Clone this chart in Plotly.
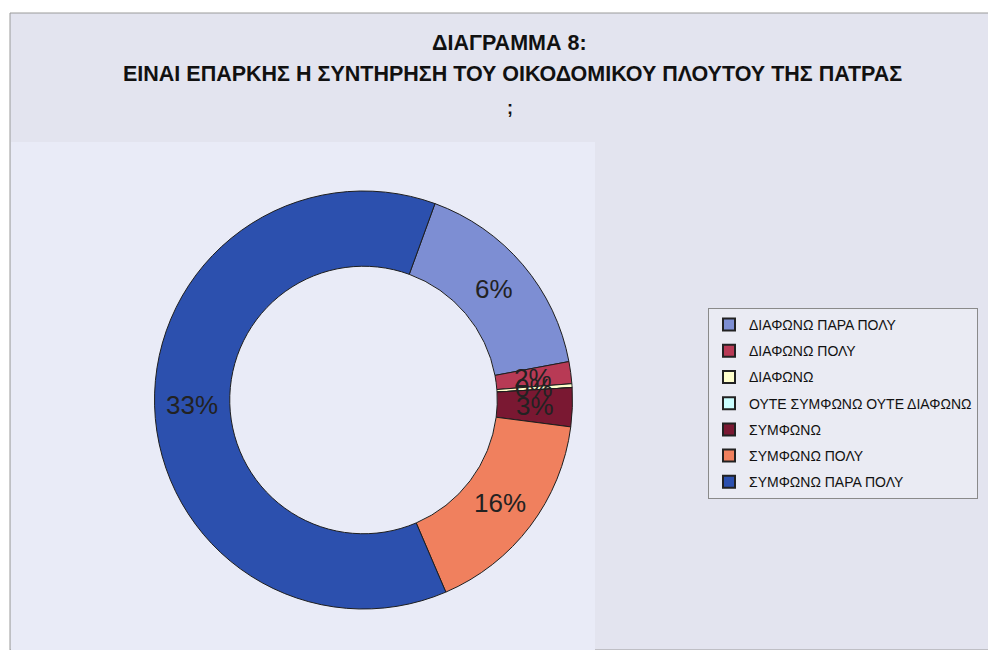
import math
import plotly.graph_objects as go

# ---- data ----
categories = [
    "ΔΙΑΦΩΝΩ ΠΑΡΑ ΠΟΛΥ",
    "ΔΙΑΦΩΝΩ ΠΟΛΥ",
    "ΔΙΑΦΩΝΩ",
    "ΟΥΤΕ ΣΥΜΦΩΝΩ ΟΥΤΕ ΔΙΑΦΩΝΩ",
    "ΣΥΜΦΩΝΩ",
    "ΣΥΜΦΩΝΩ ΠΟΛΥ",
    "ΣΥΜΦΩΝΩ ΠΑΡΑ ΠΟΛΥ",
]
# slice shares as drawn
slice_shares = [16.5, 1.7, 0.3, 0.0, 3.0, 16.5, 62.0]
# data labels as printed on the chart
slice_labels = ["6%", "2%", "0%", "0%", "3%", "16%", "33%"]
colors = ["#7D8ED3", "#B83A55", "#FFFFCC", "#CCFFFF", "#7A1832", "#F0805E", "#2C50AE"]

title_line1 = "ΔΙΑΓΡΑΜΜΑ 8:"
title_line2 = "ΕΙΝΑΙ ΕΠΑΡΚΗΣ Η ΣΥΝΤΗΡΗΣΗ ΤΟΥ ΟΙΚΟΔΟΜΙΚΟΥ ΠΛΟΥΤΟΥ ΤΗΣ ΠΑΤΡΑΣ"
title_line3 = ";"

# page has an 8px body margin; figure fills the rest of the 996x650 window
OFF = 8
W, H = 996 - OFF, 650 - OFF
FONT = "Liberation Sans, Arial, sans-serif"


def px(x):
    return (x - OFF) / W


def py(y):
    return 1 - (y - OFF) / H


fig = go.Figure()

# donut
cx, cy, r = 363.5, 400.0, 209.0
HOLE = 0.64
ROT = 20
fig.add_trace(go.Pie(
    labels=categories,
    values=slice_shares,
    textinfo="none",
    hole=HOLE,
    sort=False,
    direction="clockwise",
    rotation=ROT,
    marker=dict(colors=colors, line=dict(color="#1e1e1e", width=1)),
    showlegend=False,
    domain=dict(x=[px(cx - r), px(cx + r)], y=[py(cy + r), py(cy - r)]),
))

# data labels at the middle of each ring segment (Excel style)
annotations = []
total = sum(slice_shares)
cum = 0.0
rm = r * (1 + HOLE) / 2
for v, lab in zip(slice_shares, slice_labels):
    if v > 0:
        ang = math.radians(ROT + (cum + v / 2) / total * 360)
        annotations.append(dict(
            text=lab, x=px(cx + rm * math.sin(ang)), y=py(cy - rm * math.cos(ang)),
            xref="paper", yref="paper", showarrow=False, xanchor="center", yanchor="middle",
            font=dict(family=FONT, size=26, color="#222"),
        ))
    cum += v

# legend entries (one per category)
for name, c in zip(categories, colors):
    fig.add_trace(go.Scatter(
        x=[None], y=[None], mode="markers", name=name, legendgroup=name,
        marker=dict(symbol="square", size=8, color=c, line=dict(color="#222", width=1)),
    ))

shapes = [
    # chart area
    dict(type="rect", xref="paper", yref="paper", x0=px(10), x1=1.0, y0=0.0, y1=py(13),
         fillcolor="#E3E4EF", line=dict(color="#9a9a9a", width=1), layer="below"),
    # plot area
    dict(type="rect", xref="paper", yref="paper", x0=px(11), x1=px(595), y0=0.0, y1=py(142),
         fillcolor="#E9EBF7", line=dict(width=0), layer="below"),
]

for text, x, y, size in [(title_line1, 510, 43, 21.5), (title_line2, 512, 74, 21.5), (title_line3, 510, 108, 18)]:
    annotations.append(dict(
        text="<b>" + text + "</b>", x=px(x), y=py(y), xref="paper", yref="paper", showarrow=False,
        font=dict(family=FONT, size=size, color="#111"), xanchor="center", yanchor="middle",
    ))

fig.update_layout(
    width=W, height=H,
    margin=dict(l=0, r=0, t=0, b=0),
    paper_bgcolor="white",
    plot_bgcolor="rgba(0,0,0,0)",
    xaxis=dict(visible=False),
    yaxis=dict(visible=False),
    shapes=shapes,
    annotations=annotations,
    legend=dict(
        x=px(708), y=py(308), xanchor="left", yanchor="top",
        font=dict(family=FONT, size=14, color="#111"),
        bgcolor="rgba(255,255,255,0.25)", bordercolor="#8a8a8a", borderwidth=1,
        tracegroupgap=5, itemsizing="constant",
    ),
    hovermode=False,
)

fig.write_html("out.html")
